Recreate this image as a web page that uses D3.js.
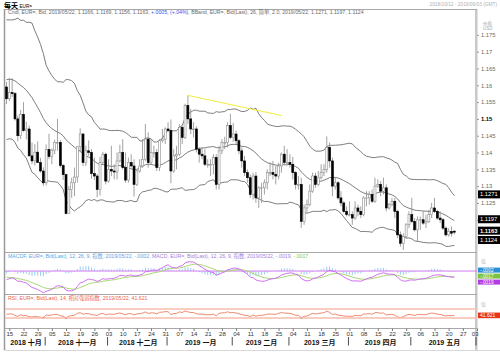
<!DOCTYPE html>
<html>
<head>
<meta charset="utf-8">
<script src="https://cdn.jsdelivr.net/npm/d3@7"></script>
<style>
body { margin: 0; background: #fff; }
svg { display: block; font-family: "Liberation Sans", Arial, "Noto Sans CJK SC", sans-serif; }
</style>
</head>
<body>
<script>
// closes before the visible range, only used to warm up BBand / MACD / RSI (2018-08-01 .. 2018-10-11)
var warmClose = [1.1660, 1.1585, 1.1565,
  1.1555, 1.1600, 1.1610, 1.1525, 1.1410, 1.1405, 1.1345, 1.1345, 1.1375, 1.1440,
  1.1475, 1.1570, 1.1595, 1.1540, 1.1620, 1.1680, 1.1700, 1.1705, 1.1670, 1.1600,
  1.1620, 1.1585, 1.1625, 1.1625, 1.1550, 1.1595, 1.1600, 1.1625, 1.1690, 1.1625,
  1.1685, 1.1665, 1.1675, 1.1775, 1.1745, 1.1750, 1.1765, 1.1740, 1.1640, 1.1605,
  1.1580, 1.1545, 1.1480, 1.1515, 1.1525, 1.1490, 1.1490, 1.1525, 1.1595];

var firstDay = "2018-10-12", lastDay = "2019-06-03";

// daily bars 2018-10-12 .. 2019-05-22
var open = [1.1595,1.1560,1.1578,1.1575,1.1500,1.1450,1.1513,1.1465,1.1470,1.1390,1.1375,1.1401,1.1370,1.1345,
  1.1310,1.1409,1.1388,1.1407,1.1430,1.1430,1.1361,1.1334,1.1218,1.1290,1.1310,1.1327,1.1417,1.1455,1.1370,1.1405,1.1400,1.1337,1.1330,1.1290,1.1370,1.1395,
  1.1315,1.1350,1.1345,1.1342,1.1375,1.1400,1.1355,1.1318,1.1370,1.1360,1.1305,1.1345,1.1360,1.1380,1.1440,1.1370,1.1400,1.1400,1.1355,1.1435,1.1440,
  1.1470,1.1465,1.1345,1.1390,1.1395,1.1475,1.1445,1.1540,1.1500,1.1470,1.1470,1.1410,1.1395,1.1390,1.1365,1.1365,1.1365,1.1385,1.1305,1.1405,1.1430,1.1430,1.1480,
  1.1445,1.1455,1.1435,1.1405,1.1375,1.1340,1.1325,1.1275,1.1330,1.1265,1.1295,1.1295,1.1310,1.1340,1.1340,1.1335,1.1330,1.1360,1.1395,1.1370,
  1.1370,1.1365,1.1340,1.1305,1.1305,1.1195,1.1235,1.1245,1.1285,1.1330,1.1305,1.1325,1.1340,1.1350,1.1415,1.1375,1.1300,1.1310,1.1265,1.1250,1.1225,
  1.1215,1.1215,1.1205,1.1235,1.1225,1.1215,1.1265,1.1265,1.1275,1.1255,1.1300,1.1305,1.1285,1.1295,1.1235,1.1245,1.1255,1.1225,1.1155,1.1130,1.1150,1.1185,
  1.1215,1.1195,1.1170,1.1200,1.1200,1.1190,1.1195,1.1215,1.1235,1.1225,1.1205,1.1200,1.1175,1.1155,1.1165,1.1166];
var high = [1.1610,1.1622,1.1621,1.1580,1.1510,1.1527,1.1550,1.1492,1.1480,1.1430,1.1425,1.1433,1.1384,1.1356,
  1.1424,1.1456,1.1412,1.1438,1.1500,1.1438,1.1366,1.1337,1.1300,1.1325,1.1355,1.1420,1.1472,1.1458,1.1420,1.1436,1.1410,1.1385,1.1336,1.1387,1.1402,1.1400,
  1.1380,1.1420,1.1365,1.1400,1.1423,1.1440,1.1400,1.1385,1.1395,1.1380,1.1350,1.1380,1.1440,1.1485,1.1460,1.1440,1.1420,1.1410,1.1440,1.1470,1.1475,
  1.1490,1.1498,1.1410,1.1420,1.1485,1.1480,1.1545,1.1570,1.1530,1.1490,1.1478,1.1415,1.1414,1.1410,1.1380,1.1380,1.1395,1.1395,1.1420,1.1440,1.1447,1.1490,1.1515,
  1.1488,1.1465,1.1440,1.1415,1.1390,1.1350,1.1335,1.1340,1.1342,1.1300,1.1310,1.1320,1.1350,1.1370,1.1375,1.1360,1.1370,1.1400,1.1420,1.1410,
  1.1395,1.1387,1.1345,1.1330,1.1325,1.1245,1.1260,1.1305,1.1340,1.1340,1.1345,1.1365,1.1365,1.1448,1.1430,1.1385,1.1325,1.1315,1.1285,1.1255,1.1240,
  1.1255,1.1225,1.1255,1.1245,1.1240,1.1270,1.1285,1.1285,1.1290,1.1325,1.1320,1.1315,1.1325,1.1305,1.1250,1.1265,1.1265,1.1230,1.1165,1.1160,1.1190,1.1225,
  1.1265,1.1205,1.1210,1.1210,1.1225,1.1215,1.1230,1.1250,1.1265,1.1230,1.1225,1.1205,1.1180,1.1175,1.1180,1.1169];
var low = [1.1544,1.1553,1.1565,1.1495,1.1433,1.1440,1.1462,1.1439,1.1388,1.1365,1.1361,1.1370,1.1340,1.1300,
  1.1302,1.1380,1.1365,1.1395,1.1405,1.1355,1.1318,1.1216,1.1218,1.1265,1.1270,1.1310,1.1400,1.1360,1.1360,1.1390,1.1322,1.1318,1.1267,1.1272,1.1365,1.1305,
  1.1310,1.1330,1.1320,1.1320,1.1370,1.1350,1.1310,1.1310,1.1355,1.1269,1.1300,1.1340,1.1355,1.1375,1.1355,1.1365,1.1385,1.1345,1.1345,1.1430,1.1425,
  1.1460,1.1309,1.1340,1.1350,1.1390,1.1425,1.1440,1.1485,1.1455,1.1445,1.1400,1.1370,1.1380,1.1360,1.1355,1.1330,1.1335,1.1290,1.1290,1.1395,1.1410,1.1415,1.1440,
  1.1432,1.1425,1.1395,1.1355,1.1330,1.1310,1.1265,1.1260,1.1250,1.1235,1.1250,1.1275,1.1290,1.1330,1.1320,1.1305,1.1320,1.1340,1.1365,1.1365,
  1.1355,1.1320,1.1290,1.1290,1.1176,1.1185,1.1222,1.1240,1.1280,1.1295,1.1300,1.1320,1.1330,1.1340,1.1355,1.1270,1.1290,1.1260,1.1240,1.1220,1.1210,
  1.1210,1.1185,1.1200,1.1210,1.1205,1.1210,1.1240,1.1245,1.1250,1.1250,1.1295,1.1270,1.1275,1.1225,1.1230,1.1240,1.1205,1.1145,1.1120,1.1110,1.1145,1.1175,
  1.1190,1.1165,1.1135,1.1170,1.1185,1.1175,1.1190,1.1205,1.1220,1.1200,1.1190,1.1170,1.1150,1.1150,1.1150,1.1156];
var close = [1.1560,1.1578,1.1575,1.1500,1.1450,1.1513,1.1465,1.1470,1.1390,1.1375,1.1401,1.1370,1.1345,1.1310,
  1.1409,1.1388,1.1407,1.1430,1.1430,1.1361,1.1334,1.1218,1.1290,1.1310,1.1327,1.1417,1.1455,1.1370,1.1405,1.1400,1.1337,1.1330,1.1290,1.1370,1.1395,1.1315,
  1.1350,1.1345,1.1342,1.1375,1.1400,1.1355,1.1318,1.1370,1.1360,1.1305,1.1345,1.1360,1.1380,1.1440,1.1370,1.1400,1.1400,1.1355,1.1435,1.1440,1.1470,
  1.1465,1.1345,1.1390,1.1395,1.1475,1.1445,1.1540,1.1500,1.1470,1.1470,1.1410,1.1395,1.1390,1.1365,1.1365,1.1365,1.1385,1.1305,1.1405,1.1430,1.1430,1.1480,1.1445,
  1.1455,1.1435,1.1405,1.1375,1.1340,1.1325,1.1275,1.1330,1.1265,1.1295,1.1295,1.1310,1.1340,1.1340,1.1335,1.1330,1.1360,1.1395,1.1370,1.1370,
  1.1365,1.1340,1.1305,1.1305,1.1195,1.1235,1.1245,1.1285,1.1330,1.1305,1.1325,1.1340,1.1350,1.1415,1.1375,1.1300,1.1310,1.1265,1.1250,1.1225,1.1215,
  1.1215,1.1205,1.1235,1.1225,1.1215,1.1265,1.1265,1.1275,1.1255,1.1300,1.1305,1.1285,1.1295,1.1235,1.1245,1.1255,1.1225,1.1155,1.1130,1.1150,1.1185,1.1215,
  1.1195,1.1170,1.1200,1.1200,1.1190,1.1195,1.1215,1.1235,1.1225,1.1205,1.1200,1.1175,1.1155,1.1165,1.1160,1.1163];

var priceTicks = [1.115, 1.12, 1.125, 1.13, 1.135, 1.14, 1.145, 1.15, 1.155, 1.16, 1.165, 1.17, 1.175];
var monthNames = {"2018-10": "2018 十月", "2018-11": "2018 十一月", "2018-12": "2018 十二月", "2019-01": "2019 一月",
  "2019-02": "2019 二月", "2019-03": "2019 三月", "2019-04": "2019 四月", "2019-05": "2019 五月"};
// yellow drawing line on the chart
var trendDays = ["2019-01-10", "2019-02-26"];
var trendPrices = [1.1570, 1.1510];

var priceFlags = [{v: 1.1271, t: "1.1271"}, {v: 1.1197, t: "1.1197"}, {v: 1.1163, t: "1.1163"}, {v: 1.1124, t: "1.1124"}];
var macdFlags = [{v: -0.0002, t: "-.0002", c: "#2a8fd6"}, {v: -0.0017, t: "-.0017", c: "#7cc242"}, {v: -0.0019, t: "-.0019", c: "#b13de0"}];
var rsiFlag = {v: 41.621, t: "41.621"};

var W = 500, H = 352;
var plotL = 5, plotR = 477;
var mainTop = 9, mainBot = 252, macdBot = 294, rsiBot = 328;

function weekdays(from, to) {
  var out = [];
  var d = new Date(from + "T00:00:00Z"), end = new Date(to + "T00:00:00Z");
  while (d <= end) {
    var wd = d.getUTCDay();
    if (wd > 0 && wd < 6) out.push(d.toISOString().slice(0, 10));
    d.setUTCDate(d.getUTCDate() + 1);
  }
  return out;
}
var days = weekdays(firstDay, lastDay);

var bars = close.map(function(c, i) {
  return {day: days[i], o: open[i], h: high[i], l: low[i], c: c};
});

// ---- indicators
var all = warmClose.concat(close);
var off = warmClose.length;

function ema(arr, n) {
  var k = 2 / (n + 1), prev = arr[0];
  return arr.map(function(v, i) {
    prev = i === 0 ? v : v * k + prev * (1 - k);
    return prev;
  });
}
var e12 = ema(all, 12), e26 = ema(all, 26);
var macd = all.map(function(v, i) { return e12[i] - e26[i]; });
var signal = ema(macd, 9);

var rsi = [], ag = 0, al = 0;
for (var i = 1; i < all.length; i++) {
  var ch = all[i] - all[i - 1];
  var g = ch > 0 ? ch : 0, l = ch < 0 ? -ch : 0;
  if (i <= 14) { ag += g / 14; al += l / 14; }
  else { ag = (ag * 13 + g) / 14; al = (al * 13 + l) / 14; }
  rsi[i] = al === 0 ? 100 : 100 - 100 / (1 + ag / al);
}

var band = bars.map(function(b, i) {
  var win = all.slice(off + i - 25, off + i + 1);
  var m = d3.mean(win);
  var sd = Math.sqrt(d3.mean(win, function(v) { return (v - m) * (v - m); }));
  return {day: b.day, mid: m, up: m + 2 * sd, lo: m - 2 * sd,
    macd: macd[off + i], sig: signal[off + i], hist: macd[off + i] - signal[off + i], rsi: rsi[off + i]};
});

// ---- scales
var x = d3.scalePoint().domain(days).range([6.5, 477]);
var y = d3.scaleLinear().domain([1.1104, 1.1824]).range([mainBot, 10]);
var ym = d3.scaleLinear().domain([-0.0070, 0.0058]).range([macdBot, mainBot]);
var yr = d3.scaleLinear().domain([0, 100]).range([324.75, 302.25]);

var svg = d3.select("body").append("svg").attr("width", W).attr("height", H);

var defs = svg.append("defs");
[["clipMain", mainTop, mainBot], ["clipMacd", mainBot, macdBot], ["clipRsi", macdBot, rsiBot]].forEach(function(c) {
  defs.append("clipPath").attr("id", c[0]).append("rect")
    .attr("x", plotL).attr("y", c[1]).attr("width", plotR - plotL).attr("height", c[2] - c[1]);
});

// frame
svg.append("rect").attr("x", 475).attr("y", mainTop).attr("width", 2.5).attr("height", 341).attr("fill", "#c8c8c8");
svg.append("line").attr("x1", 4.5).attr("x2", 4.5).attr("y1", mainTop).attr("y2", 350).attr("stroke", "#9a9a9a").attr("stroke-width", 1.5);
[mainTop, mainBot, macdBot, rsiBot].forEach(function(yy) {
  svg.append("line").attr("x1", plotL).attr("x2", plotR).attr("y1", yy + 0.5).attr("y2", yy + 0.5)
    .attr("stroke", "#a8a8a8").attr("stroke-width", 1);
});
svg.append("line").attr("x1", 4).attr("x2", 500).attr("y1", 350.5).attr("y2", 350.5).attr("stroke", "#d8d8d8");

// header
var head = svg.append("text").attr("x", 4).attr("y", 7.5).attr("fill", "#000");
head.append("tspan").attr("font-size", 7).attr("font-weight", "bold").text("每天");
head.append("tspan").attr("font-size", 4.6).attr("dx", 1.5).text("EUR=");
svg.append("text").attr("x", 497).attr("y", 6).attr("text-anchor", "end")
  .attr("font-size", 4.8).attr("fill", "#b0b0b0").text("2018/10/12 - 2019/06/03 (GMT)");

// ---- main panel
var main = svg.append("g").attr("clip-path", "url(#clipMain)");

["up", "mid", "lo"].forEach(function(k) {
  main.append("path").datum(band)
    .attr("fill", "none").attr("stroke", "#6e6e6e").attr("stroke-width", 0.9)
    .attr("d", d3.line().x(function(d) { return x(d.day); }).y(function(d) { return y(d[k]); }));
});

main.selectAll("line.wick").data(bars).enter().append("line")
  .attr("class", "wick")
  .attr("x1", function(d) { return x(d.day); }).attr("x2", function(d) { return x(d.day); })
  .attr("y1", function(d) { return y(d.h); }).attr("y2", function(d) { return y(d.l); })
  .attr("stroke", "#8a8a8a").attr("stroke-width", 0.8);

main.selectAll("rect.body").data(bars).enter().append("rect")
  .attr("class", "body")
  .attr("x", function(d) { return x(d.day) - 1; })
  .attr("width", 2)
  .attr("y", function(d) { return y(Math.max(d.o, d.c)); })
  .attr("height", function(d) { return Math.max(0.8, Math.abs(y(d.o) - y(d.c))); })
  .attr("fill", function(d) { return d.c < d.o ? "#000" : "#fff"; })
  .attr("stroke", function(d) { return d.c < d.o ? "#000" : "#8c8c8c"; })
  .attr("stroke-width", 0.6);

main.append("line")
  .attr("x1", x(trendDays[0])).attr("y1", y(trendPrices[0]))
  .attr("x2", x(trendDays[1])).attr("y2", y(trendPrices[1]))
  .attr("stroke", "#f2ee3a").attr("stroke-width", 1);

var leg = svg.append("text").attr("x", 8).attr("y", 14.3).attr("font-size", 5.2).attr("fill", "#6a6a6a");
leg.append("tspan").text("Cndl, EUR=, Bid, 2019/05/22, 1.1166, 1.1169, 1.1156, 1.1163, ");
leg.append("tspan").attr("fill", "#3355ee").text("+.0005, (+.04%)");
leg.append("tspan").text(", BBand, EUR=, Bid(Last), 26, 简单, 2.0, 2019/05/22, 1.1271, 1.1197, 1.1124");

function placeFlags(list, scale, gap, maxY) {
  var arr = list.map(function(f) { return Object.assign({}, f, {py: scale(f.v) - 1.5}); });
  arr.sort(function(a, b) { return a.py - b.py; });
  for (var k = 1; k < arr.length; k++) if (arr[k].py < arr[k - 1].py + gap) arr[k].py = arr[k - 1].py + gap;
  if (maxY && arr[arr.length - 1].py > maxY) arr[arr.length - 1].py = maxY;
  return arr;
}
var placedPrice = placeFlags(priceFlags, y, 9.5, 240);

// price axis, tick labels hidden where a flag sits on them
var ax = svg.append("g").attr("transform", "translate(477,0)")
  .call(d3.axisRight(y).tickValues(priceTicks).tickSize(2).tickPadding(2)
    .tickFormat(function(d) { return String(+d.toFixed(3)); }));
ax.select(".domain").remove();
ax.selectAll(".tick line").attr("stroke", "#999");
ax.selectAll(".tick text").attr("font-size", 5.8).attr("font-family", null)
  .attr("font-weight", function(d) { return d === 1.15 ? "bold" : null; })
  .attr("fill", function(d) { return d === 1.15 ? "#000" : "#666"; });
ax.selectAll(".tick text").filter(function(d) {
  return placedPrice.some(function(f) { return Math.abs(f.py - y(d)) < 7; });
}).remove();

svg.append("text").attr("x", 483).attr("y", 25).attr("font-size", 4.5).attr("fill", "#aaa").text("价格");
svg.append("text").attr("x", 483).attr("y", 30.3).attr("font-size", 4.5).attr("fill", "#aaa").text("USD");

placedPrice.forEach(function(f) {
  svg.append("rect").attr("x", 478).attr("y", f.py - 4).attr("width", 22).attr("height", 8).attr("fill", "#000");
  svg.append("text").attr("x", 480).attr("y", f.py + 2).attr("font-size", 5.8).attr("fill", "#fff")
    .attr("font-weight", f.t === "1.1163" ? "bold" : null).text(f.t);
});

// ---- MACD panel
var mg = svg.append("g").attr("clip-path", "url(#clipMacd)");
mg.selectAll("line.hist").data(band).enter().append("line")
  .attr("x1", function(d) { return x(d.day); }).attr("x2", function(d) { return x(d.day); })
  .attr("y1", ym(0)).attr("y2", function(d) { return ym(d.hist); })
  .attr("stroke", "#8cc6f0").attr("stroke-width", 0.9);
mg.append("line").attr("x1", plotL).attr("x2", plotR).attr("y1", ym(0)).attr("y2", ym(0))
  .attr("stroke", "#d27af2").attr("stroke-width", 1);
mg.append("path").datum(band).attr("fill", "none").attr("stroke", "#a9d774").attr("stroke-width", 1)
  .attr("d", d3.line().x(function(d) { return x(d.day); }).y(function(d) { return ym(d.sig); }));
mg.append("path").datum(band).attr("fill", "none").attr("stroke", "#d070f4").attr("stroke-width", 1)
  .attr("d", d3.line().x(function(d) { return x(d.day); }).y(function(d) { return ym(d.macd); }));

var ml = svg.append("text").attr("x", 8).attr("y", 258).attr("font-size", 5.2);
ml.append("tspan").attr("fill", "#5aa6e6").text("MACDF, EUR=, Bid(Last), 12, 26, 9, 指数, 2019/05/22, -.0002, ");
ml.append("tspan").attr("fill", "#9f7ee0").text("MACD, EUR=, Bid(Last), 12, 26, 9, 指数, 2019/05/22, -.0019, ");
ml.append("tspan").attr("fill", "#8cc63f").text("-.0017");

svg.append("text").attr("x", 481).attr("y", 263).attr("font-size", 4.8).attr("fill", "#bbb").text("值");
placeFlags(macdFlags, ym, 6, 0).forEach(function(f) {
  svg.append("rect").attr("x", 478).attr("y", f.py - 2.6).attr("width", 22).attr("height", 5).attr("fill", f.c);
  svg.append("text").attr("x", 480).attr("y", f.py + 1.6).attr("font-size", 4.8).attr("fill", "#fff").text(f.t);
});

// ---- RSI panel
var rg = svg.append("g").attr("clip-path", "url(#clipRsi)");
[70, 30].forEach(function(v) {
  svg.append("line").attr("x1", plotL).attr("x2", plotR).attr("y1", yr(v)).attr("y2", yr(v))
    .attr("stroke", "#f8bcae").attr("stroke-width", 1.6);
});
rg.append("path").datum(band).attr("fill", "none").attr("stroke", "#f07a5c").attr("stroke-width", 0.9)
  .attr("d", d3.line().x(function(d) { return x(d.day); }).y(function(d) { return yr(d.rsi); }));
// oversold marks
rg.selectAll("circle").data(band.filter(function(d) { return d.rsi < 31.5; })).enter().append("circle")
  .attr("cx", function(d) { return x(d.day); }).attr("cy", function(d) { return yr(d.rsi); })
  .attr("r", 0.9).attr("fill", "#e0200e");

svg.append("text").attr("x", 8).attr("y", 299.5).attr("font-size", 5.2).attr("fill", "#f06444")
  .text("RSI, EUR=, Bid(Last), 14, 相对强弱指数, 2019/05/22, 41.621");
svg.append("text").attr("x", 481).attr("y", 306).attr("font-size", 4.8).attr("fill", "#bbb").text("值");
svg.append("rect").attr("x", 478).attr("y", yr(rsiFlag.v) - 2.8).attr("width", 22).attr("height", 5.6).attr("fill", "#e8341c");
svg.append("text").attr("x", 480).attr("y", yr(rsiFlag.v) + 1.8).attr("font-size", 5).attr("fill", "#fff").text(rsiFlag.t);

// ---- time axis
var mondays = days.filter(function(d) { return new Date(d + "T00:00:00Z").getUTCDay() === 1; });
var xa = svg.append("g").attr("transform", "translate(0," + (rsiBot + 0.5) + ")")
  .call(d3.axisBottom(x).tickValues(mondays).tickSize(2.5).tickPadding(1)
    .tickFormat(function(d) { return d.slice(8); }));
xa.select(".domain").remove();
xa.selectAll(".tick line").attr("stroke", "#777");
xa.selectAll(".tick text").attr("font-size", 6).attr("fill", "#333").attr("font-family", null);
xa.selectAll(".tick text").filter(function(d) { return d === lastDay; }).attr("text-anchor", "end").attr("dx", 1);

var monthKeys = Object.keys(monthNames);
var starts = monthKeys.map(function(m) { return days.find(function(d) { return d.slice(0, 7) === m; }); });
var edges = starts.slice(1).map(function(d) { return x(d) - 1; });
edges.push(x(lastDay) - 1);
edges.forEach(function(e) {
  svg.append("line").attr("x1", e).attr("x2", e).attr("y1", 337).attr("y2", 345.5).attr("stroke", "#222").attr("stroke-width", 0.8);
});
monthKeys.forEach(function(m, k) {
  var a = k === 0 ? plotL : edges[k - 1], b = edges[k];
  svg.append("text").attr("x", (a + b) / 2 + 1).attr("y", 344.5).attr("text-anchor", "middle")
    .attr("font-size", 7).attr("font-weight", "bold").attr("fill", "#111").text(monthNames[m]);
});
</script>
</body>
</html>
